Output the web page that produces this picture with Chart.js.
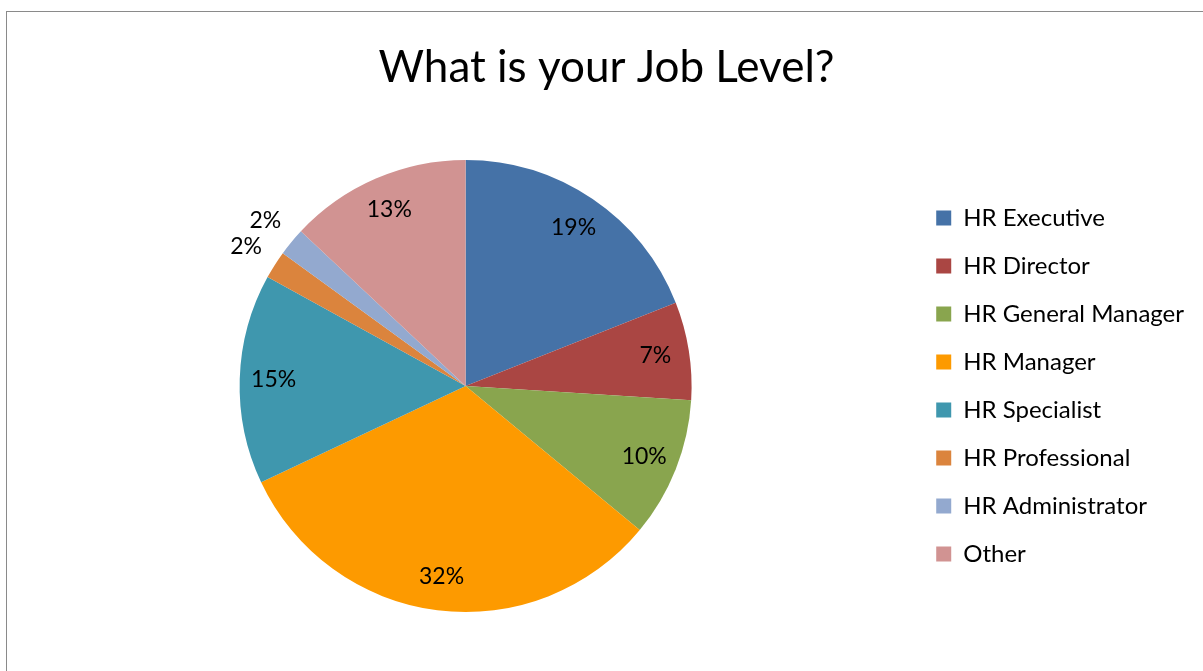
<!DOCTYPE html>
<html>
<head>
<meta charset="utf-8">
<title>What is your Job Level?</title>
<script src="https://cdn.jsdelivr.net/npm/chart.js@4/dist/chart.umd.min.js"></script>
<style>
  html, body { margin: 0; padding: 0; background: #fff; }
  #wrap { position: relative; width: 1203px; height: 671px; overflow: hidden; }
  #frame {
    position: absolute; left: 6px; top: 11px; width: 1400px; height: 900px;
    border-left: 1.5px solid #8a8a8a; border-top: 1.5px solid #8a8a8a;
  }
  #jobChart { position: absolute; left: 0; top: 0; }
</style>
</head>
<body>
<div id="wrap">
  <div id="frame"></div>
  <canvas id="jobChart" width="1203" height="671"></canvas>
</div>
<script>
const categories = ['HR Executive', 'HR Director', 'HR General Manager', 'HR Manager',
  'HR Specialist', 'HR Professional', 'HR Administrator', 'Other'];
const shares = [19, 7, 10, 32, 15, 2, 2, 13];
const sliceColors = ['#4572a7', '#aa4643', '#89a54e', '#fd9a00',
  '#3f97ae', '#db843d', '#93a9cf', '#d19392'];

const FONT = 'Lato, "Open Sans", sans-serif';

// percentage labels: inside the slice, or just outside for the thin ones
const sliceLabels = {
  id: 'sliceLabels',
  afterDatasetsDraw(chart) {
    const { ctx } = chart;
    const meta = chart.getDatasetMeta(0);
    const data = chart.data.datasets[0].data;
    ctx.save();
    ctx.font = '23px ' + FONT;
    ctx.fillStyle = '#000';
    ctx.textAlign = 'center';
    ctx.textBaseline = 'middle';
    meta.data.forEach((arc, i) => {
      const mid = (arc.startAngle + arc.endAngle) / 2;
      const k = data[i] < 5 ? 1.15 : 0.85;
      const x = arc.x + Math.cos(mid) * arc.outerRadius * k;
      const y = arc.y + Math.sin(mid) * arc.outerRadius * k;
      ctx.fillText(data[i] + '%', x, y);
    });
    ctx.restore();
  }
};

new Chart(document.getElementById('jobChart'), {
  type: 'pie',
  data: {
    labels: categories,
    datasets: [{
      data: shares,
      backgroundColor: sliceColors,
      borderWidth: 0
    }]
  },
  options: {
    responsive: false,
    animation: false,
    layout: { padding: { left: 19, top: 0, bottom: 59, right: 9 } },
    plugins: {
      title: {
        display: true,
        text: 'What is your Job Level?',
        color: '#000',
        font: { family: FONT, size: 44, weight: 'normal' },
        padding: { top: 41.6, bottom: 65.6 }
      },
      legend: {
        position: 'right',
        fullSize: false,
        labels: {
          color: '#000',
          font: { family: FONT, size: 24 },
          boxWidth: 15,
          boxHeight: 15,
          padding: 24
        }
      },
      tooltip: { enabled: false }
    }
  },
  plugins: [sliceLabels]
});
</script>
</body>
</html>
